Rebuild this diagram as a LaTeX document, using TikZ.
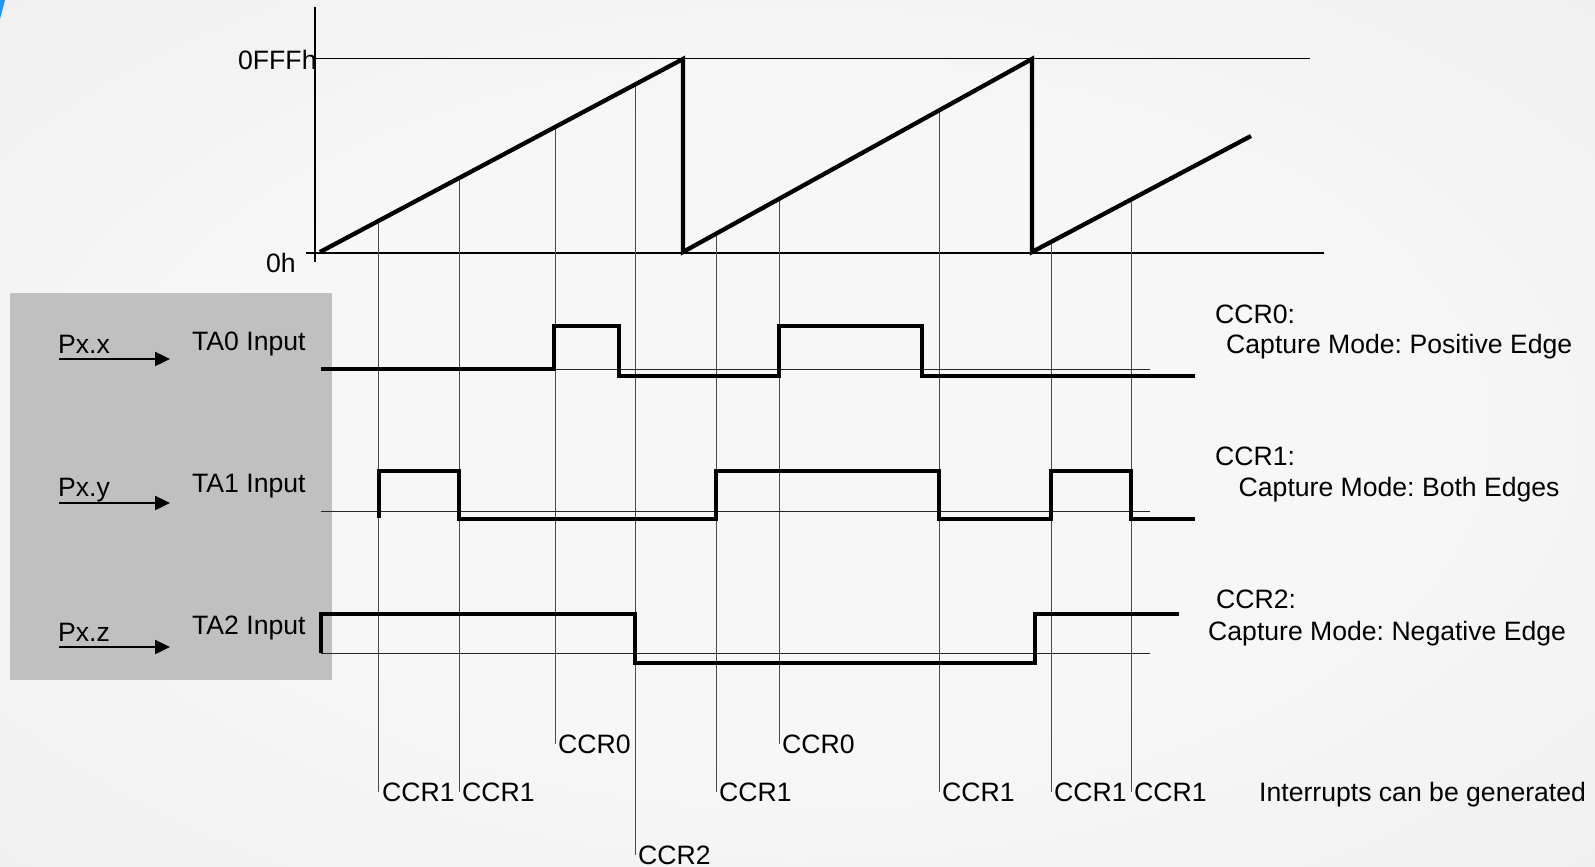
\documentclass[tikz,border=0pt]{standalone}
\usepackage{fontspec}
\setmainfont{Liberation Sans}
\usetikzlibrary{calc,arrows.meta}
\definecolor{bgin}{RGB}{247,247,247}
\definecolor{bgout}{RGB}{226,226,226}
\definecolor{boxgray}{RGB}{192,192,192}
\definecolor{markgray}{RGB}{75,75,75}
\definecolor{slideblue}{RGB}{40,150,240}
\pgfdeclareradialshading{bgshade}{\pgfpoint{0bp}{0bp}}{color(0bp)=(bgin); color(18bp)=(bgin); color(72bp)=(bgout)}
\frenchspacing
\begin{document}
\begin{tikzpicture}[x=1pt,y=-1pt,
  font=\fontsize{26.6}{31}\selectfont,
  wave/.style={line width=4.3pt, line join=miter},
  ramp/.style={line width=4.3pt, line join=miter},
  refline/.style={line width=0.9pt, draw=black!85},
  marker/.style={line width=1pt, draw=markgray},
  lbl/.style={inner sep=0pt, anchor=base west},
  arr/.style={line width=2.4pt, -{Triangle[length=15pt,width=14pt]}}]
\useasboundingbox (0,0) rectangle (1595,867);
\shade[shading=bgshade] (0,0) rectangle (1595,867);
\fill[slideblue] (0,0) -- (5,0) .. controls (3.5,7) and (1.5,13) .. (0,19) -- cycle;

% grey input box
\fill[boxgray] (10,293) rectangle (332,680);

% axes
\draw[line width=2pt] (315,7) -- (315,262);
\draw[line width=1pt] (315,59) -- (1310,59);
\draw[line width=1.6pt] (306,253) -- (1324,253);
\node[lbl] (ffff) at (238,70) {0FFFh};
\node[lbl] (zero) at (266,272) {0h};

% ramp coordinates
\coordinate (r0) at (320,252);
\coordinate (p1) at (683,59);
\coordinate (b1) at (683,252);
\coordinate (p2) at (1032,59);
\coordinate (b2) at (1032,252);
\coordinate (e3) at (1251,136);

% capture marker tops on the ramp
\coordinate (m1) at ($(r0)!0.1625!(p1)$);
\coordinate (m2) at ($(r0)!0.3829!(p1)$);
\coordinate (m3) at ($(r0)!0.6474!(p1)$);
\coordinate (m4) at ($(r0)!0.8678!(p1)$);
\coordinate (m5) at ($(b1)!0.0946!(p2)$);
\coordinate (m6) at ($(b1)!0.2751!(p2)$);
\coordinate (m7) at ($(b1)!0.7335!(p2)$);
\coordinate (m8) at ($(b2)!0.0868!(e3)$);
\coordinate (m9) at ($(b2)!0.4521!(e3)$);

% bottom labels
\node[lbl] (l1) at (382,801) {CCR1};
\node[lbl] (l2) at (462,801) {CCR1};
\node[lbl] (l3) at (558,753) {CCR0};
\node[lbl] (l4) at (638,864) {CCR2};
\node[lbl] (l5) at (719,801) {CCR1};
\node[lbl] (l6) at (782,753) {CCR0};
\node[lbl] (l7) at (942,801) {CCR1};
\node[lbl] (l8) at (1054,801) {CCR1};
\node[lbl] (l9) at (1134,801) {CCR1};
\node[lbl] (intr) at (1259,801) {Interrupts can be generated};

\foreach \m/\l in {m1/l1,m2/l2,m3/l3,m4/l4,m5/l5,m6/l6,m7/l7,m8/l8,m9/l9}
  \draw[marker] (\m) -- (\m |- \l.west);

% ramp
\draw[ramp] (r0) -- (p1) -- (b1) -- (p2) -- (b2) -- (e3);

% reference lines of the inputs
\draw[refline] (321,369) -- (1150,369);
\draw[refline] (321,511) -- (1150,511);
\draw[refline] (321,653) -- (1150,653);

% input waveforms
\draw[wave] (321,369) -- (554,369) -- (554,326) -- (619,326) -- (619,376) -- (779,376) -- (779,326) -- (922,326) -- (922,376) -- (1195,376);
\draw[wave] (379,518) -- (379,471) -- (459,471) -- (459,519) -- (716,519) -- (716,471) -- (939,471) -- (939,519) -- (1051,519) -- (1051,471) -- (1131,471) -- (1131,519) -- (1195,519);
\draw[wave] (321,653) -- (321,614) -- (635,614) -- (635,663) -- (1035,663) -- (1035,614) -- (1179,614);

% input labels and arrows
\node[lbl] (pxx) at (58,353) {Px.x};
\node[lbl] (pxy) at (58,496) {Px.y};
\node[lbl] (pxz) at (58,641) {Px.z};
\node[lbl] (ta0) at (192,350) {TA0 Input};
\node[lbl] (ta1) at (192,492) {TA1 Input};
\node[lbl] (ta2) at (192,634) {TA2 Input};
\coordinate (ax0) at (59,359);  \coordinate (ax1) at (170,359);
\coordinate (ay0) at (59,503);  \coordinate (ay1) at (170,503);
\coordinate (az0) at (59,647);  \coordinate (az1) at (170,647);
\draw[arr] (ax0) -- (ax1);
\draw[arr] (ay0) -- (ay1);
\draw[arr] (az0) -- (az1);

% mode descriptions
\node[lbl] (c0) at (1215,323.5) {CCR0:};
\node[lbl] (c0m) at (1226,353.3) {Capture Mode: Positive Edge};
\node[lbl] (c1) at (1215,465) {CCR1:};
\node[lbl] (c1m) at (1238.5,496.7) {Capture Mode: Both Edges};
\node[lbl] (c2) at (1216,608.3) {CCR2:};
\node[lbl] (c2m) at (1208,640) {Capture Mode: Negative Edge};
\end{tikzpicture}
\end{document}
